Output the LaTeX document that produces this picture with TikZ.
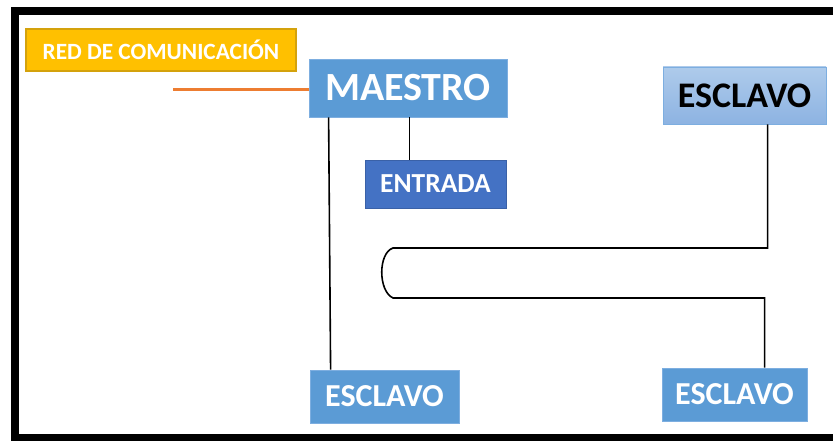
\documentclass[tikz,border=0pt]{standalone}
\usepackage{fontspec}
\setmainfont{Carlito}
\definecolor{oro}{HTML}{FFC000}
\definecolor{oroborde}{HTML}{D4A20C}
\definecolor{azul}{HTML}{5B9BD5}
\definecolor{azulborde}{HTML}{7DAEE0}
\definecolor{azuloscuro}{HTML}{4472C4}
\definecolor{azulclaro}{HTML}{AECBEB}
\definecolor{azulmedio}{HTML}{8DB3E2}
\definecolor{naranja}{HTML}{ED7D31}

\begin{document}
\begin{tikzpicture}[x=1pt, y=1pt,
    caja/.style={inner sep=0pt, font=\bfseries, align=center},
    azulcaja/.style={caja, fill=azul, draw=azulborde, line width=0.8pt, text=white},
    conector/.style={draw, line width=1.6pt}]
    \clip (0,0) rectangle (833,441);
    \fill[white] (0,0) rectangle (833,441);
    \draw[line width=8pt] (845,430) -- (15,430) -- (15,2.5) -- (845,2.5);
    \node[caja, fill=oro, draw=oroborde, line width=1.2pt, text=white,
      minimum width=270, minimum height=42, font=\bfseries\fontsize{23.3}{23.3}\selectfont]
      (red) at (161,391) {RED DE COMUNICACIÓN};
    \node[azulcaja, minimum width=198, minimum height=58,
      font=\bfseries\fontsize{40}{40}\selectfont] (maestro) at (408,353) {MAESTRO};
    \node[caja, top color=azulclaro, bottom color=azulmedio, draw=azulborde, line width=0.8pt,
      minimum width=163, minimum height=57, font=\bfseries\fontsize{36}{36}\selectfont]
      (esclavoA) at (744.5,345.5) {ESCLAVO};
    \node[caja, fill=azuloscuro, draw=azuloscuro!85!black, line width=0.8pt, text=white,
      minimum width=141, minimum height=48, font=\bfseries\fontsize{27.5}{27.5}\selectfont]
      (entrada) at (435.5,257) {ENTRADA};
    \node[azulcaja, minimum width=149, minimum height=53,
      font=\bfseries\fontsize{32}{32}\selectfont] (esclavoB) at (384.5,44.5) {ESCLAVO};
    \node[azulcaja, minimum width=145, minimum height=53,
      font=\bfseries\fontsize{32}{32}\selectfont] (esclavoC) at (734.5,46.5) {ESCLAVO};
    \coordinate (red-fin) at (173,351);
    \coordinate (bucle-a) at (393,193);
    \coordinate (bucle-b) at (393,143);
    \path[draw, naranja, line width=3pt] (red-fin) -- (maestro.west |- red-fin);
    \path[conector] ([xshift=45pt]entrada.north west |- maestro.south) -- ([xshift=45pt]entrada.north west);
    \path[conector] ([xshift=20pt]maestro.south west) -- ([xshift=21pt]esclavoB.north west);
    \path[conector] ([xshift=105pt]esclavoA.south west) |- (bucle-a)
      .. controls (378,188) and (378,150) .. (bucle-b)
      -| ([xshift=103pt]esclavoC.north west);
\end{tikzpicture}
\end{document}
